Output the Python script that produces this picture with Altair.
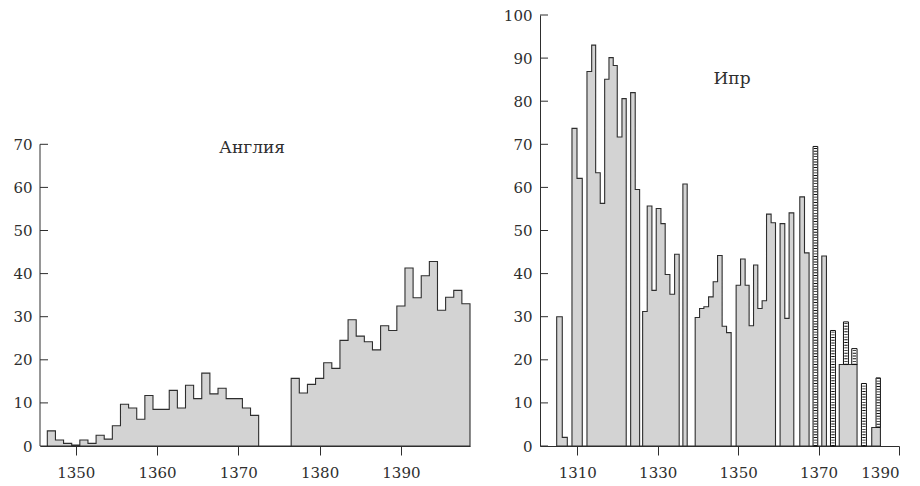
import altair as alt
import pandas as pd

# ---------------- data: Англия (left panel), annual bars ----------------
eng_years = list(range(1347, 1399))
eng_values = [3.5, 1.4, 0.6, 0.2, 1.4, 0.6, 2.5, 1.6, 4.7, 9.7,
              8.8, 6.2, 11.7, 8.5, 8.5, 12.9, 8.8, 14.1, 11.0, 16.9,
              12.1, 13.4, 11.0, 11.0, 8.8, 7.1,
              0, 0, 0, 0,
              15.7, 12.3, 14.3, 15.7, 19.3, 18.0, 24.5, 29.3, 25.5, 24.2,
              22.3, 27.9, 26.8, 32.5, 41.3, 34.4, 39.5, 42.8, 31.5, 34.5,
              36.1, 33.0]
eng_xticks = [1350, 1360, 1370, 1380, 1390]
eng_yticks = [0, 10, 20, 30, 40, 50, 60, 70]

# ---------------- data: Ипр (right panel) ----------------
# bin boundaries (years) and heights
ypr_edges = [1304.88, 1306.27, 1307.52, 1308.68, 1309.93, 1311.24, 1312.41, 1313.58, 1314.57, 1315.71,
             1316.81, 1317.88, 1318.94, 1319.94, 1321.11, 1322.17, 1323.27, 1324.41, 1325.50, 1326.25,
             1327.39, 1328.56, 1329.63, 1330.80, 1331.86, 1333.03, 1334.20, 1335.34, 1336.26, 1337.33,
             1338.32, 1339.32, 1340.41, 1341.48, 1342.65, 1343.79, 1344.88, 1346.02, 1347.12, 1348.26,
             1349.50, 1350.60, 1351.74, 1352.73, 1353.83, 1354.89, 1355.96, 1357.06, 1358.20, 1359.29,
             1360.43, 1361.60, 1362.67, 1363.84, 1365.33, 1366.50, 1367.64, 1368.63, 1369.80, 1370.80,
             1371.96, 1372.96, 1374.20, 1375.14, 1376.19, 1377.43, 1378.25, 1379.57, 1380.66, 1381.90,
             1383.22, 1384.29, 1385.38]
ypr_gray = [30, 2, 0, 73.7, 62.1, 0, 86.9, 93.0, 63.4, 56.3,
            85.1, 90.1, 88.3, 71.7, 80.6, 0, 82.0, 59.5, 0, 31.2,
            55.7, 36.1, 55.1, 51.6, 39.8, 35.2, 44.5, 0, 60.8, 0,
            0, 29.8, 31.9, 32.3, 34.6, 38.1, 44.2, 27.8, 26.3, 0,
            37.3, 43.4, 37.3, 27.9, 42.0, 31.9, 33.7, 53.8, 51.8, 0,
            51.6, 29.6, 54.1, 0, 57.8, 44.8, 0, 0, 0, 44.1,
            0, 0, 0, 18.9, 18.9, 18.9, 18.9, 0, 0, 0,
            4.3, 4.3]
ypr_hatch = [None] * 57 + [69.5, None, None, None, 26.8, None, None, 28.8, None, 22.6,
                           None, 14.5, None, None, 15.8]
ypr_xticks = [1310, 1330, 1350, 1370, 1390]
ypr_yticks = [0, 10, 20, 30, 40, 50, 60, 70, 80, 90, 100]

# ---------------- style ----------------
FONT = "DejaVu Serif"
GRAY = "#d3d3d3"
DARK = "#2e2e2e"
H = 431

# ---------------- tables ----------------
eng_df = pd.DataFrame({"x": [y - 0.5 for y in eng_years] + [eng_years[-1] + 0.5],
                       "v": eng_values + [eng_values[-1]]})
ypr_df = pd.DataFrame({"x": ypr_edges, "v": ypr_gray + [ypr_gray[-1]]})
hatch_rows = [{"x0": ypr_edges[i], "x1": ypr_edges[i + 1],
               "xm": (ypr_edges[i] + ypr_edges[i + 1]) / 2,
               "base": ypr_gray[i], "top": t}
              for i, t in enumerate(ypr_hatch) if t is not None]
hatch_df = pd.DataFrame(hatch_rows)


def xenc(field, dom, ticks):
    ax = alt.Axis(values=ticks, title=None, tickSize=9, labelPadding=10,
                  grid=False, labelFont=FONT, labelFontSize=15,
                  labelColor=DARK, domainColor=DARK, tickColor=DARK,
                  format="d")
    return alt.X(field, scale=alt.Scale(domain=dom, nice=False, zero=False), axis=ax)


def yenc(field, ticks, show_domain):
    ax = alt.Axis(values=ticks, title=None, ticks=False, labelPadding=8,
                  grid=False, domain=show_domain, labelFont=FONT,
                  labelFontSize=15, labelColor=DARK, domainColor=DARK,
                  format="d")
    return alt.Y(field, scale=alt.Scale(domain=[0, 100], nice=False), axis=ax, stack=False)


def panel(df, dom, xticks, yticks, top, title, tx, ty, width, hatch=None):
    full = top == 100
    area = alt.Chart(df).mark_area(
        interpolate="step-after", fill=GRAY, stroke=DARK, strokeWidth=1.1
    ).encode(x=xenc("x:Q", dom, xticks), y=yenc("v:Q", yticks, full))
    tk = alt.Chart(pd.DataFrame({"t": yticks})).mark_rule(
        color=DARK, strokeWidth=1
    ).encode(y=yenc("t:Q", yticks, full), x=alt.value(0), x2=alt.value(8))
    layers = [area, tk]
    if not full:
        dom_line = alt.Chart(pd.DataFrame({"lo": [0], "hi": [top]})).mark_rule(
            color=DARK, strokeWidth=1
        ).encode(y=yenc("lo:Q", yticks, full), y2="hi:Q", x=alt.value(0))
        layers.append(dom_line)
    if hatch is not None:
        box = alt.Chart(hatch).mark_rect(fill="white", stroke="#111", strokeWidth=1).encode(
            x=xenc("x0:Q", dom, xticks), x2="x1:Q",
            y=yenc("base:Q", yticks, full), y2="top:Q")
        rung = alt.Chart(hatch).mark_rule(
            color="#111", strokeWidth=3.4, strokeDash=[0.9, 1.8], strokeCap="butt"
        ).encode(x=xenc("xm:Q", dom, xticks),
                 y=yenc("base:Q", yticks, full), y2="top:Q")
        layers += [box, rung]
    txt = alt.Chart(pd.DataFrame({"t": [title]})).mark_text(
        font=FONT, fontSize=17, color=DARK, align="center", baseline="alphabetic"
    ).encode(text="t:N", x=alt.value(tx), y=alt.value(ty))
    layers.append(txt)
    return alt.layer(*layers).properties(width=width, height=H)


left = panel(eng_df, [1345.6, 1398.5], eng_xticks, eng_yticks, 70, "Англия", 212, 138, 430)
right = panel(ypr_df, [1300.73, 1390], ypr_xticks, ypr_yticks, 100, "Ипр", 192, 69, 359,
              hatch=hatch_df)

chart = alt.hconcat(left, right, spacing=70, bounds="flush").properties(
    padding={"left": 12, "top": 8, "right": 5, "bottom": 5},
    background="white"
).configure_view(stroke=None)

chart.save("out.html", embed_options={"renderer": "svg", "actions": False})
